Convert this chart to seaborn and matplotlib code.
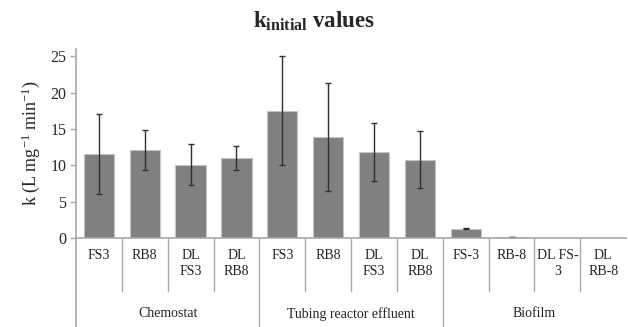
import numpy as np
import pandas as pd
import matplotlib
matplotlib.use("Agg")
import matplotlib.pyplot as plt
import seaborn as sns

# ── data ──────────────────────────────────────────────────────────────────────
GROUPS = ["Chemostat", "Tubing reactor effluent", "Biofilm"]
LABELS = [
    ["FS3", "RB8", "DL\nFS3", "DL\nRB8"],
    ["FS3", "RB8", "DL\nFS3", "DL\nRB8"],
    ["FS-3", "RB-8", "DL FS-\n3", "DL\nRB-8"],
]
K_VALS = [
    [11.6, 12.1, 10.1, 11.0],
    [17.5, 13.9, 11.8, 10.8],
    [1.3, 0.15, 0.0, 0.0],
]
K_ERR = [
    [5.5, 2.7, 2.8, 1.6],
    [7.5, 7.4, 4.0, 3.9],
    [0.1, 0.05, 0.0, 0.0],
]

rows = []
for g, labs, vals, errs in zip(GROUPS, LABELS, K_VALS, K_ERR):
    for lab, v, e in zip(labs, vals, errs):
        rows.append({"group": g, "label": lab, "key": f"{g}|{lab}", "k": v, "err": e})
df = pd.DataFrame(rows)

# ── style ─────────────────────────────────────────────────────────────────────
sns.set_style("white")
plt.rcParams["font.family"] = ["Liberation Serif", "DejaVu Serif"]
plt.rcParams["mathtext.fontset"] = "custom"
plt.rcParams["mathtext.rm"] = "Liberation Serif"
plt.rcParams["mathtext.it"] = "Liberation Serif:italic"
plt.rcParams["mathtext.bf"] = "Liberation Serif:bold"

AX_COL = "#a8a8a8"

fig = plt.figure(figsize=(6.28, 3.27), dpi=100, facecolor="white")
ax = fig.add_axes([0.121, 0.272, 0.876, 0.578])

sns.barplot(data=df, x="key", y="k", color="#808080", width=0.66,
            edgecolor="#c4c4c4", linewidth=0.8, saturation=1, ax=ax, errorbar=None)
# no outline for empty bars
for p, v in zip(ax.patches, df["k"]):
    if v == 0:
        p.set_linewidth(0)
pos = np.arange(len(df))
has_err = (df["err"] > 0).to_numpy()
ax.errorbar(pos[has_err], df["k"][has_err], yerr=df["err"][has_err], fmt="none",
            ecolor="#303030", elinewidth=1.0, capsize=2.5, capthick=1.0)

ax.set_xlim(-0.5, len(df) - 0.5)
ax.set_ylim(0, 26)
ax.set_yticks([0, 5, 10, 15, 20, 25])
ax.set_xticks([])
ax.set_xlabel("")
ax.set_ylabel(r"k (L mg$^{-1}$ min$^{-1}$)", fontsize=13, labelpad=6)
ax.tick_params(axis="y", direction="out", length=4, width=1, color=AX_COL,
               labelsize=11.5, pad=3, left=True)
for s in ["top", "right"]:
    ax.spines[s].set_visible(False)
for s in ["left", "bottom"]:
    ax.spines[s].set_color(AX_COL)
    ax.spines[s].set_linewidth(1.2)

# ── category table under the axis ─────────────────────────────────────────────
tr = ax.get_xaxis_transform()
ax.plot([-0.5, -0.5], [0, -0.47], transform=tr, color=AX_COL, lw=1.2, clip_on=False)
n_per = len(LABELS[0])
for i in range(1, len(df)):
    y_end = -0.47 if i % n_per == 0 else -0.28
    ax.plot([i - 0.5, i - 0.5], [0, y_end], transform=tr, color=AX_COL, lw=1.0,
            clip_on=False)
for i, lab in enumerate(df["label"]):
    ax.text(i, -0.06, lab, transform=tr, ha="center", va="top", fontsize=10,
            linespacing=1.3, color="#222222")
for gi, g in enumerate(GROUPS):
    ax.text(gi * n_per + (n_per - 1) / 2, -0.40, g, transform=tr, ha="center",
            va="center", fontsize=10, color="#222222")

fig.text(0.5, 0.935, r"$\mathbf{k_{initial}}$ values", ha="center", va="center",
         fontsize=16.5, fontweight="bold")

fig.savefig("out.png", dpi=100, facecolor="white")
plt.close(fig)
